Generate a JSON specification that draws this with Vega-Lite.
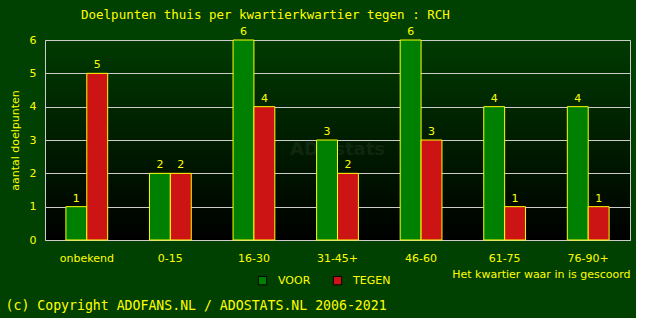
{
  "$schema": "https://vega.github.io/schema/vega-lite/v6.json",
  "background": "#004000",
  "padding": {"left": 5, "top": 8, "right": 5, "bottom": 5},
  "title": {
    "text": "(c) Copyright ADOFANS.NL / ADOSTATS.NL 2006-2021",
    "orient": "bottom",
    "anchor": "start",
    "frame": "bounds",
    "dx": -3,
    "font": "DejaVu Sans Mono",
    "fontSize": 13.2,
    "fontWeight": "normal",
    "color": "#ffff00",
    "offset": 13
  },
  "vconcat": [
    {
      "title": {
        "text": "Doelpunten thuis per kwartierkwartier tegen : RCH",
        "anchor": "start",
        "frame": "group",
        "dx": 36,
        "font": "DejaVu Sans Mono",
        "fontSize": 12.5,
        "fontWeight": "normal",
        "color": "#ffff00",
        "offset": 5
      },
      "width": 585,
      "height": 200,
      "view": {
        "stroke": "#cccccc",
        "fill": {"gradient": "linear", "x1": 0, "y1": 0, "x2": 0, "y2": 1,
          "stops": [{"offset": 0, "color": "#003a00"}, {"offset": 1, "color": "#000000"}]}
      },
      "data": {
        "values": [
          {"kwartier": "onbekend", "team": "VOOR", "goals": 1},
          {"kwartier": "onbekend", "team": "TEGEN", "goals": 5},
          {"kwartier": "0-15", "team": "VOOR", "goals": 2},
          {"kwartier": "0-15", "team": "TEGEN", "goals": 2},
          {"kwartier": "16-30", "team": "VOOR", "goals": 6},
          {"kwartier": "16-30", "team": "TEGEN", "goals": 4},
          {"kwartier": "31-45+", "team": "VOOR", "goals": 3},
          {"kwartier": "31-45+", "team": "TEGEN", "goals": 2},
          {"kwartier": "46-60", "team": "VOOR", "goals": 6},
          {"kwartier": "46-60", "team": "TEGEN", "goals": 3},
          {"kwartier": "61-75", "team": "VOOR", "goals": 4},
          {"kwartier": "61-75", "team": "TEGEN", "goals": 1},
          {"kwartier": "76-90+", "team": "VOOR", "goals": 4},
          {"kwartier": "76-90+", "team": "TEGEN", "goals": 1}
        ]
      },
      "encoding": {
        "x": {
          "field": "kwartier", "type": "nominal",
          "sort": ["onbekend", "0-15", "16-30", "31-45+", "46-60", "61-75", "76-90+"],
          "scale": {"domain": ["onbekend", "0-15", "16-30", "31-45+", "46-60", "61-75", "76-90+"], "paddingInner": 0.5, "paddingOuter": 0.25},
          "axis": {
            "title": "Het kwartier waar in is gescoord",
            "titleAnchor": "end",
            "titleColor": "#ffff00",
            "titleFont": "DejaVu Sans",
            "titleFontSize": 11,
            "titleFontWeight": "normal",
            "titlePadding": 5,
            "labelAngle": 0,
            "labelColor": "#ffff00",
            "labelFont": "DejaVu Sans",
            "labelFontSize": 11,
            "labelPadding": 12,
            "ticks": false,
            "domain": false,
            "grid": false
          }
        },
        "xOffset": {"field": "team", "type": "nominal", "sort": ["VOOR", "TEGEN"]},
        "y": {
          "field": "goals", "type": "quantitative",
          "scale": {"domain": [0, 6], "nice": false},
          "axis": {
            "title": "aantal doelpunten",
            "titleColor": "#ffff00",
            "titleFont": "DejaVu Sans",
            "titleFontSize": 11,
            "titleFontWeight": "normal",
            "titlePadding": 9,
            "labelColor": "#ffff00",
            "labelFont": "DejaVu Sans",
            "labelFontSize": 11,
            "labelPadding": 9,
            "tickCount": 6,
            "ticks": false,
            "domain": false,
            "grid": true,
            "gridColor": "#cccccc",
            "gridOpacity": 1
          }
        }
      },
      "layer": [
        {
          "mark": {"type": "text", "text": "ADOstats", "font": "DejaVu Sans", "fontWeight": "bold", "fontSize": 18, "color": "#808080", "opacity": 0.12},
          "data": {"values": [{"kwartier": "31-45+", "goals": 2.7}]},
          "encoding": {"xOffset": null, "x": {"field": "kwartier", "type": "nominal"}, "y": {"field": "goals", "type": "quantitative"}}
        },
        {
          "mark": {"type": "bar", "stroke": "#ffff00", "strokeWidth": 1},
          "encoding": {
            "color": {
              "field": "team", "type": "nominal",
              "scale": {"domain": ["VOOR", "TEGEN"], "range": ["#008000", "#cc1414"]},
              "legend": {
                "title": null,
                "orient": "none",
                "direction": "horizontal",
                "legendX": 212,
                "legendY": 235,
                "symbolType": "square",
                "symbolSize": 70,
                "symbolStrokeColor": "#000000",
                "symbolStrokeWidth": 1,
                "symbolOpacity": 1,
                "labelColor": "#ffff00",
                "labelFont": "DejaVu Sans",
                "labelFontSize": 11,
                "labelOffset": 10,
                "columnPadding": 20
              }
            }
          }
        },
        {
          "mark": {"type": "text", "baseline": "bottom", "dy": -3, "font": "DejaVu Sans", "fontSize": 11, "color": "#ffff00"},
          "encoding": {"text": {"field": "goals", "type": "quantitative"}}
        }
      ]
    }
  ]
}
